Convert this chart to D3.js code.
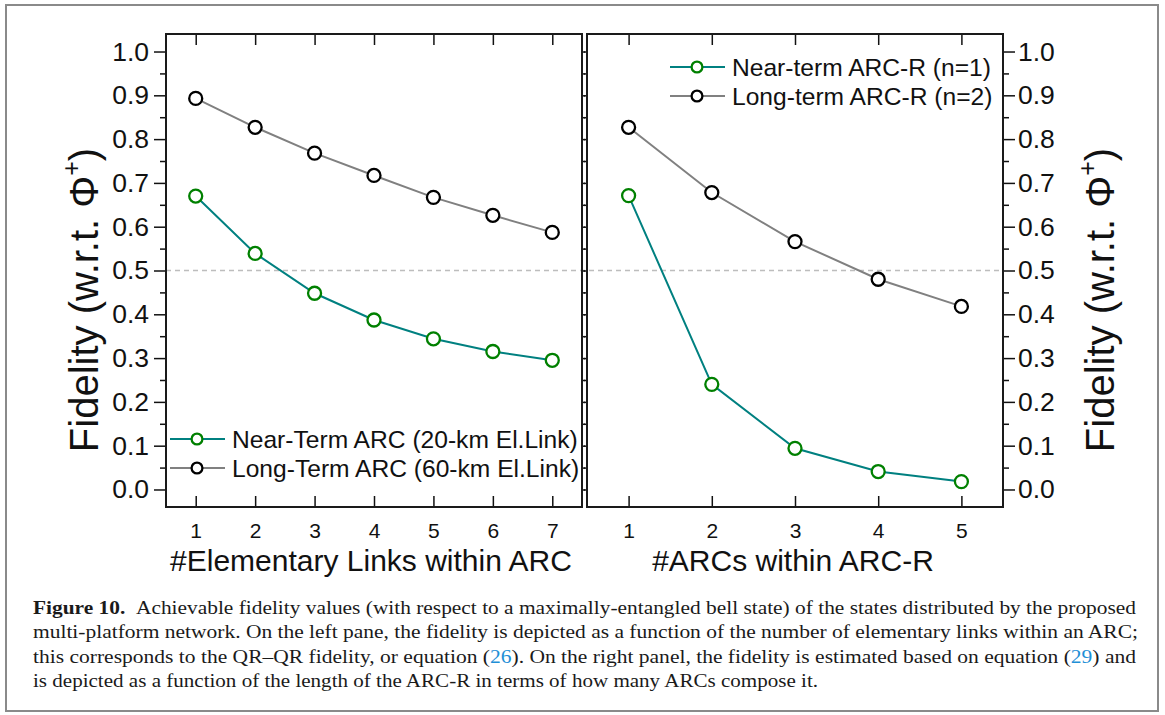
<!DOCTYPE html>
<html>
<head>
<meta charset="utf-8">
<script src="https://d3js.org/d3.v7.min.js"></script>
<style>
  body { margin: 0; background: #fff; }
  svg text { font-family: "Liberation Sans", Arial, sans-serif; }
  .cap text { font-family: "Liberation Serif", "Times New Roman", serif; }
</style>
</head>
<body>
<div id="chart"></div>
<script>
// values
const linkCounts = [1, 2, 3, 4, 5, 6, 7];
const nearTermArc = [0.670, 0.539, 0.448, 0.387, 0.344, 0.315, 0.295];
const longTermArc = [0.893, 0.827, 0.768, 0.717, 0.667, 0.626, 0.587];

const arcCounts = [1, 2, 3, 4, 5];
const nearTermArcR = [0.671, 0.240, 0.094, 0.041, 0.018];
const longTermArcR = [0.827, 0.678, 0.566, 0.480, 0.418];

const yMajor = [0.0, 0.1, 0.2, 0.3, 0.4, 0.5, 0.6, 0.7, 0.8, 0.9, 1.0];
const yMinor = [0.05, 0.15, 0.25, 0.35, 0.45, 0.55, 0.65, 0.75, 0.85, 0.95];
const threshold = 0.5;

const leftLegend = ['Near-Term ARC (20-km El.Link)', 'Long-Term ARC (60-km El.Link)'];
const rightLegend = ['Near-term ARC-R (n=1)', 'Long-term ARC-R (n=2)'];

const captionLines = [
  [{t: 'Figure 10.', b: true}, {t: '\u00a0\u00a0Achievable fidelity values (with respect to a maximally-entangled bell state) of the states distributed by the proposed'}],
  [{t: 'multi-platform network. On the left pane, the fidelity is depicted as a function of the number of elementary links within an ARC;'}],
  [{t: 'this corresponds to the QR\u2013QR fidelity, or equation ('}, {t: '26', link: true}, {t: '). On the right panel, the fidelity is estimated based on equation ('}, {t: '29', link: true}, {t: ') and'}],
  [{t: 'is depicted as a function of the length of the ARC-R in terms of how many ARCs compose it.'}]
];

const W = 1165, H = 715;
const nearLine = '#008080', nearMark = '#008000';
const longLine = '#808080', longMark = '#000000';

const svg = d3.select('#chart').append('svg')
  .attr('width', W).attr('height', H);

// outer figure frame
svg.append('rect')
  .attr('x', 6).attr('y', 5).attr('width', 1152).attr('height', 706)
  .attr('fill', 'none').attr('stroke', '#8a8a8a').attr('stroke-width', 2);

const plotTop = 34, plotBottom = 507;
const y = d3.scaleLinear().domain([-0.04, 1.04]).range([plotBottom, plotTop]);
const xL = d3.scaleLinear().domain([0.5, 7.5]).range([166, 582]);
const xR = d3.scaleLinear().domain([0.5, 5.5]).range([587, 1003]);

// dashed 0.5 line across both panes
svg.append('line')
  .attr('x1', xL.range()[0]).attr('x2', xR.range()[1])
  .attr('y1', y(threshold)).attr('y2', y(threshold))
  .attr('stroke', '#bdbdbd').attr('stroke-width', 1.5)
  .attr('stroke-dasharray', '5,4');

function drawPanel(x, xs, near, long, side) {
  const [x0, x1] = x.range();
  const g = svg.append('g');

  // x ticks, inward at bottom and top
  const xb = g.append('g').attr('transform', `translate(0,${plotBottom})`)
    .call(d3.axisBottom(x).tickValues(xs).tickSize(-11).tickPadding(16).tickFormat(d3.format('d')));
  xb.selectAll('text').attr('font-size', 21).attr('fill', '#111');
  g.append('g').attr('transform', `translate(0,${plotTop})`)
    .call(d3.axisTop(x).tickValues(xs).tickSize(-11).tickFormat(''));

  // y ticks outward on the outer side, short inward on the inner side
  const outerX = side === 'left' ? x0 : x1;
  const innerX = side === 'left' ? x1 : x0;
  const mk = () => side === 'left' ? d3.axisLeft(y) : d3.axisRight(y);
  const ya = g.append('g').attr('transform', `translate(${outerX},0)`)
    .call(mk().tickValues(yMajor).tickSize(12).tickPadding(side === 'left' ? 5 : 3).tickFormat(d3.format('.1f')));
  ya.selectAll('text').attr('font-size', 26.5).attr('fill', '#111');
  g.append('g').attr('transform', `translate(${outerX},0)`)
    .call(mk().tickValues(yMinor).tickSize(6).tickFormat(''));
  g.append('g').attr('transform', `translate(${innerX},0)`)
    .call(mk().tickValues(yMajor.concat(yMinor)).tickSize(-3).tickFormat(''));
  g.selectAll('.tick line').attr('stroke', '#111').attr('stroke-width', 1.5);
  g.selectAll('.domain').remove();

  // frame
  g.append('rect')
    .attr('x', x0).attr('y', plotTop).attr('width', x1 - x0).attr('height', plotBottom - plotTop)
    .attr('fill', 'none').attr('stroke', '#1a1a1a').attr('stroke-width', 2);

  const line = d3.line().x((d, i) => x(xs[i])).y(d => y(d));
  [[long, longLine, longMark], [near, nearLine, nearMark]].forEach(([vals, lc, mc]) => {
    g.append('path').datum(vals)
      .attr('d', line).attr('fill', 'none')
      .attr('stroke', lc).attr('stroke-width', 2);
    g.selectAll(null).data(vals).enter().append('circle')
      .attr('cx', (d, i) => x(xs[i])).attr('cy', d => y(d))
      .attr('r', 6.5).attr('fill', '#fff')
      .attr('stroke', mc).attr('stroke-width', 2.3);
  });
}

drawPanel(xL, linkCounts, nearTermArc, longTermArc, 'left');
drawPanel(xR, arcCounts, nearTermArcR, longTermArcR, 'right');

// legends
function legend(lx, ly, labels) {
  const items = [[nearLine, nearMark], [longLine, longMark]];
  labels.forEach((lab, i) => {
    const yy = ly + i * 29;
    svg.append('line').attr('x1', lx).attr('x2', lx + 55).attr('y1', yy).attr('y2', yy)
      .attr('stroke', items[i][0]).attr('stroke-width', 2);
    svg.append('circle').attr('cx', lx + 27).attr('cy', yy).attr('r', 5.4)
      .attr('fill', '#fff').attr('stroke', items[i][1]).attr('stroke-width', 2.3);
    svg.append('text').attr('x', lx + 62).attr('y', yy + 9)
      .attr('font-size', 24.6).attr('fill', '#111').text(lab);
  });
}
legend(170, 439, leftLegend);
legend(670, 67, rightLegend);

// axis titles
svg.append('text').attr('x', (xL.range()[0] + xL.range()[1]) / 2 - 3).attr('y', 571)
  .attr('text-anchor', 'middle').attr('font-size', 30).attr('fill', '#111')
  .text('#Elementary Links within ARC');
svg.append('text').attr('x', (xR.range()[0] + xR.range()[1]) / 2 - 2).attr('y', 571)
  .attr('text-anchor', 'middle').attr('font-size', 30).attr('fill', '#111')
  .text('#ARCs within ARC-R');

function yTitle(bx) {
  const t = svg.append('text')
    .attr('transform', `translate(${bx},300) rotate(-90)`)
    .attr('text-anchor', 'middle').attr('font-size', 40).attr('fill', '#111');
  t.append('tspan').text('Fidelity (w.r.t. \u03a6');
  t.append('tspan').attr('font-size', 25).attr('dy', -18).text('+');
  t.append('tspan').attr('dy', 18).text(')');
}
yTitle(98);
yTitle(1114);

// caption
const cap = svg.append('g').attr('class', 'cap');
const capWidths = [1103, 1105, 1103, 785];
captionLines.forEach((parts, i) => {
  const t = cap.append('text').attr('x', 33).attr('y', 614 + i * 24.3)
    .attr('font-size', 18.5).attr('fill', '#1a1a1a')
    .attr('textLength', capWidths[i]).attr('lengthAdjust', 'spacingAndGlyphs');
  parts.forEach(p => {
    const s = t.append('tspan').text(p.t);
    if (p.b) s.attr('font-weight', 'bold');
    if (p.link) s.attr('fill', '#1f8fd6');
  });
});
</script>
</body>
</html>
